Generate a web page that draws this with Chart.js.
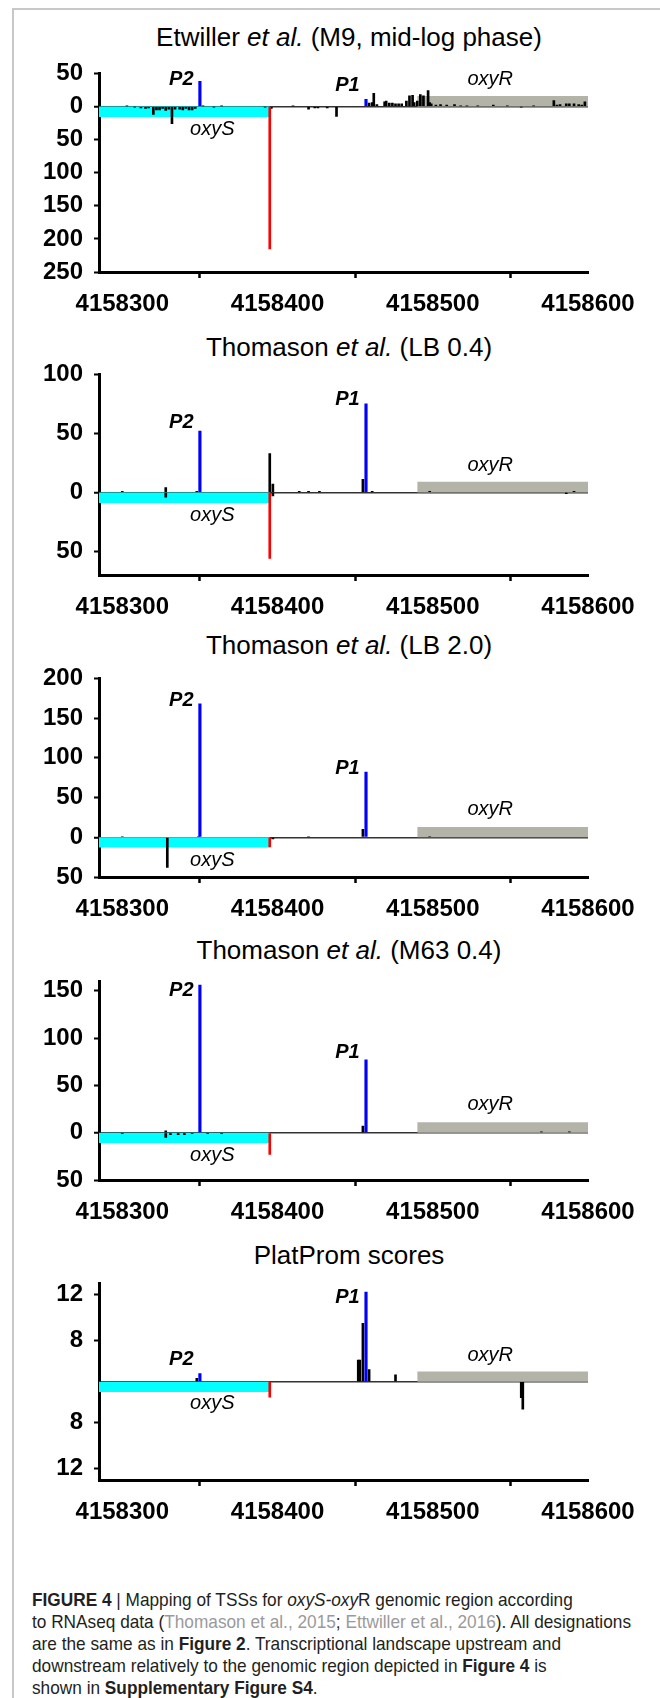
<!DOCTYPE html>
<html>
<head>
<meta charset="utf-8">
<script src="https://cdn.jsdelivr.net/npm/chart.js@4.4.1/dist/chart.umd.min.js"></script>
<style>
  html, body { margin: 0; padding: 0; background: #fff; }
  #page { position: relative; width: 660px; height: 1698px; overflow: hidden; background: #fff;
          font-family: "Liberation Sans", Arial, Helvetica, sans-serif; }
  #frame { position: absolute; left: 12px; top: 8px; width: 700px; height: 1750px;
           border-top: 2px solid #c8c8c8; border-left: 2px solid #c8c8c8; }
  .ptitle { position: absolute; left: 49px; width: 600px; height: 30px; line-height: 30px;
            text-align: center; font-size: 26px; color: #000; white-space: nowrap; }
  canvas { position: absolute; left: 0; }
  #caption { position: absolute; left: 32px; top: 1589px; font-family: "Liberation Sans", Arial, sans-serif;
             font-size: 19px; line-height: 22px; color: #231f20; white-space: nowrap;
             transform-origin: 0 0; }
  #caption .cl span { display: inline-block; }
  #caption .ref { color: #9a9a9a; }
</style>
</head>
<body>
<div id="page">
  <div id="frame"></div>
  <div class="ptitle" style="top:22px">Etwiller <i>et al.</i> (M9, mid-log phase)</div>
  <div class="ptitle" style="top:332px">Thomason <i>et al.</i> (LB 0.4)</div>
  <div class="ptitle" style="top:630px">Thomason <i>et al.</i> (LB 2.0)</div>
  <div class="ptitle" style="top:935px">Thomason <i>et al.</i> (M63 0.4)</div>
  <div class="ptitle" style="top:1240px">PlatProm scores</div>
  <div id="caption">
    <div class="cl"><span><b>FIGURE 4</b> | Mapping of TSSs for <i>oxyS-oxy</i>R genomic region according</span></div>
    <div class="cl"><span id="widest">to RNAseq data (<span class="ref">Thomason et al., 2015</span>; <span class="ref">Ettwiller et al., 2016</span>). All designations</span></div>
    <div class="cl"><span>are the same as in <b>Figure 2</b>. Transcriptional landscape upstream and</span></div>
    <div class="cl"><span>downstream relatively to the genomic region depicted in <b>Figure 4</b> is</span></div>
    <div class="cl"><span>shown in <b>Supplementary Figure S4</b>.</span></div>
  </div>
</div>
<script>
// ---------------- DATA ----------------
const xTicks = [4158300, 4158400, 4158500, 4158600];
const X_MIN = 4158285, X_MAX = 4158600;

// gene extents
const oxyS = [4158285, 4158395];
const oxyR = [4158490, 4158600];

// Etwiller et al. (M9, mid-log phase)
const etwBlackX = [4158303,4158308,4158312,4158315,4158317,4158320,4158322,4158324,4158326,4158328,4158330,4158332,4158334,4158337,4158339,4158341,4158343,4158345,4158347,4158352,4158359,4158364,4158392,4158396,4158410,4158420,4158424,4158426,4158432,4158438,4158459,4158461,4158462,4158464,4158469,4158470,4158472,4158474,4158476,4158478,4158480,4158483,4158485,4158487,4158488,4158490,4158492,4158494,4158497,4158498,4158499,4158502,4158505,4158509,4158514,4158518,4158522,4158529,4158539,4158548,4158557,4158565,4158578,4158580,4158582,4158586,4158588,4158591,4158594,4158596,4158598];
const etwBlackY = [1,-1,-2,-3,-2,-12,-5,-5,-3,-6,-4,-26,-4,-4,-5,-3,-5,-5,-3,1,-1,1,-1,-3,1,-4,-2,-2,-2,-15,5,6,20,3,7,8,5,5,4,4,4,8,16,17,6,8,18,16,24,6,4,2,3,2,3,1,1,1,2,1,-1,1,9,2,3,4,4,4,3,2,7];
const etwBlueX = [4158350, 4158457];
const etwBlueY = [38, 11];
const etwRedX = [4158395];
const etwRedY = [-215];
const etwYTicks = [-250, -200, -150, -100, -50, 0, 50];

// Thomason et al. (LB 0.4)
const lb04BlackX = [4158300,4158328,4158328,4158348,4158395,4158397,4158397,4158414,4158420,4158427,4158455,4158461,4158498,4158586,4158591];
const lb04BlackY = [1,4,-4,1,33,7,-3,1,1,1,11,1,1,-1,1];
const lb04BlueX = [4158350, 4158457];
const lb04BlueY = [52, 75];
const lb04RedX = [4158395];
const lb04RedY = [-56];
const lb04YTicks = [-50, 0, 50, 100];

// Thomason et al. (LB 2.0)
const lb20BlackX = [4158300,4158329,4158349,4158397,4158420,4158455,4158498];
const lb20BlackY = [1,-38,1,-2,1,10,1];
const lb20BlueX = [4158350, 4158457];
const lb20BlueY = [168, 82];
const lb20RedX = [4158395];
const lb20RedY = [-12];
const lb20YTicks = [-50, 0, 50, 100, 150, 200];

// Thomason et al. (M63 0.4)
const m63BlackX = [4158300,4158328,4158328,4158331,4158336,4158340,4158345,4158355,4158364,4158455,4158570,4158588];
const m63BlackY = [-1,-5,2,-2,-2,-2,-1,-1,-1,7,1,1];
const m63BlueX = [4158350, 4158457];
const m63BlueY = [156, 77];
const m63RedX = [4158395];
const m63RedY = [-23];
const m63YTicks = [-50, 0, 50, 100, 150];

// PlatProm scores (plotted above / below a baseline score)
const PLAT_BASE = 4.4;
const platPosX = [4158348, 4158452, 4158453, 4158455, 4158459, 4158476];
const platPosScore = [4.7, 6.3, 6.3, 9.5, 5.45, 5.0];
const platNegX = [4158557, 4158558];
const platNegScore = [5.8, 6.8];
const platBlueX = [4158350, 4158457];
const platBlueScore = [5.1, 12.25];
const platRedX = [4158395];
const platRedScore = [5.75];
const platTickScores = [12, 8, 8, 12];
const platTickStrand = [-1, -1, 1, 1];
const PLAT_LIMIT = 13;

// ---------------- BUILD ----------------
const FONT = '"Liberation Sans", Arial, Helvetica, sans-serif';
const CYAN = '#00ffff', GRAY = '#b3b3a8', BLUE = '#0000ff', RED = '#ff0000';
const pts = (xs, ys) => xs.map((x, i) => ({ x: x, y: ys[i] }));
const platT = (score, strand) => strand * (score - PLAT_BASE);

const panels = [
  { plotTop: 62, plotBottom: 272, yMin: -250, yMax: 50, yTicks: etwYTicks,
    black: pts(etwBlackX, etwBlackY), blue: pts(etwBlueX, etwBlueY), red: pts(etwRedX, etwRedY),
    boxH: 16, p2: 41, p1: 31, geneDy: [23, -27] },
  { plotTop: 363, plotBottom: 575, yMin: -70, yMax: 100, yTicks: lb04YTicks,
    black: pts(lb04BlackX, lb04BlackY), blue: pts(lb04BlueX, lb04BlueY), red: pts(lb04RedX, lb04RedY),
    boxH: 9, p2: 59, p1: 79, geneDy: [23, -27] },
  { plotTop: 667, plotBottom: 877, yMin: -50, yMax: 200, yTicks: lb20YTicks,
    black: pts(lb20BlackX, lb20BlackY), blue: pts(lb20BlueX, lb20BlueY), red: pts(lb20RedX, lb20RedY),
    boxH: 13, p2: 172, p1: 86, geneDy: [23, -28] },
  { plotTop: 970, plotBottom: 1180, yMin: -50, yMax: 160, yTicks: m63YTicks,
    black: pts(m63BlackX, m63BlackY), blue: pts(m63BlueX, m63BlueY), red: pts(m63RedX, m63RedY),
    boxH: 11, p2: 150, p1: 85, geneDy: [23, -28] },
  { plotTop: 1272, plotBottom: 1480, yMin: -(PLAT_LIMIT - PLAT_BASE), yMax: PLAT_LIMIT - PLAT_BASE,
    yTicks: [0].concat(platTickScores.map((s, i) => platT(s, platTickStrand[i]))),
    yLabel: v => (Math.abs(v) < 1e-9 ? '' : String(Math.round(Math.abs(v) + PLAT_BASE))),
    hideZeroTick: true,
    black: pts(platPosX, platPosScore.map(s => platT(s, 1))).concat(pts(platNegX, platNegScore.map(s => platT(s, -1)))),
    blue: pts(platBlueX, platBlueScore.map(s => platT(s, 1))),
    red: pts(platRedX, platRedScore.map(s => platT(s, -1))),
    boxH: 0.9, p2: 1.9, p1: 7.4, geneDy: [22, -26] }
];

const TOP_PAD = 14, XAXIS_H = 56;
const page = document.getElementById('page');

panels.forEach(function (p) {
  const plotH = p.plotBottom - p.plotTop;
  const canvas = document.createElement('canvas');
  canvas.width = 660;
  canvas.height = TOP_PAD + plotH + XAXIS_H;
  canvas.style.top = (p.plotTop - TOP_PAD) + 'px';
  canvas.style.width = '660px';
  canvas.style.height = canvas.height + 'px';
  page.appendChild(canvas);

  const annotations = [
    { text: 'P2', x: 4158338, y: p.p2, font: 'italic bold 20px ' + FONT },
    { text: 'P1', x: 4158445, y: p.p1, font: 'italic bold 20px ' + FONT },
    { text: 'oxyS', x: 4158358, dy: p.geneDy[0], font: 'italic 20px ' + FONT },
    { text: 'oxyR', x: 4158537, dy: p.geneDy[1], font: 'italic 20px ' + FONT }
  ];
  const annotPlugin = {
    id: 'annot',
    afterDatasetsDraw(chart) {
      const ctx = chart.ctx, xs = chart.scales.x, ys = chart.scales.y;
      ctx.save();
      ctx.fillStyle = '#000';
      ctx.textAlign = 'center';
      ctx.textBaseline = 'middle';
      annotations.forEach(function (a) {
        ctx.font = a.font;
        const px = xs.getPixelForValue(a.x);
        const py = (a.y !== undefined) ? ys.getPixelForValue(a.y) : ys.getPixelForValue(0) + a.dy;
        ctx.fillText(a.text, px, py);
      });
      ctx.restore();
    }
  };

  const barCommon = { type: 'bar', grouped: false, borderWidth: 0, borderSkipped: false };
  new Chart(canvas, {
    type: 'bar',
    data: {
      datasets: [
        { type: 'line', data: [{ x: oxyS[0], y: -p.boxH }, { x: oxyS[1], y: -p.boxH }], fill: 'origin',
          backgroundColor: CYAN, borderWidth: 0, pointRadius: 0, order: 10 },
        { type: 'line', data: [{ x: oxyR[0], y: p.boxH }, { x: oxyR[1], y: p.boxH }], fill: 'origin',
          backgroundColor: GRAY, borderWidth: 0, pointRadius: 0, order: 10 },
        Object.assign({}, barCommon, { data: p.black, backgroundColor: '#000', barThickness: 2, order: 3 }),
        Object.assign({}, barCommon, { data: p.red, backgroundColor: RED, barThickness: 2, order: 2 }),
        Object.assign({}, barCommon, { data: p.blue, backgroundColor: BLUE, barThickness: 2.5, order: 1 })
      ]
    },
    options: {
      responsive: false,
      animation: false,
      devicePixelRatio: 1,
      layout: { padding: { top: TOP_PAD, left: 0, right: 72, bottom: 0 } },
      plugins: { legend: { display: false }, tooltip: { enabled: false }, title: { display: false } },
      scales: {
        x: {
          type: 'linear', min: X_MIN, max: X_MAX, offset: false, z: 1,
          afterBuildTicks: ax => { ax.ticks = xTicks.map(v => ({ value: v })); },
          afterFit: ax => { ax.height = XAXIS_H; },
          grid: { drawOnChartArea: false, drawTicks: true, tickLength: 6, tickColor: '#000', tickWidth: 2.5, color: 'rgba(0,0,0,0)' },
          border: { display: true, color: '#000', width: 3 },
          ticks: { font: { family: FONT, size: 24, weight: 'bold' }, color: '#000', padding: 12,
                   maxRotation: 0, autoSkip: false, callback: v => String(v) }
        },
        y: {
          type: 'linear', min: p.yMin, max: p.yMax, z: 1,
          afterBuildTicks: ax => { ax.ticks = p.yTicks.map(v => ({ value: v })); },
          afterFit: ax => { ax.width = 99; },
          grid: {
            drawOnChartArea: true, drawTicks: true, tickLength: 5, tickWidth: 2,
            color: c => (c.tick && Math.abs(c.tick.value) < 1e-9 ? '#333' : 'rgba(0,0,0,0)'),
            lineWidth: c => (c.tick && Math.abs(c.tick.value) < 1e-9 ? 1.5 : 1),
            tickColor: c => (p.hideZeroTick && c.tick && Math.abs(c.tick.value) < 1e-9 ? 'rgba(0,0,0,0)' : '#000')
          },
          border: { display: true, color: '#000', width: 3 },
          ticks: { font: { family: FONT, size: 24, weight: 'bold' }, color: '#000', padding: 11,
                   autoSkip: false, callback: v => (p.yLabel ? p.yLabel(v) : String(Math.abs(v))) }
        }
      }
    },
    plugins: [annotPlugin]
  });
});

// condense the caption so that its widest line spans the caption width
(function () {
  const cap = document.getElementById('caption');
  const w = document.getElementById('widest').getBoundingClientRect().width;
  if (w > 0) cap.style.transform = 'scaleX(' + (599 / w).toFixed(4) + ')';
})();
</script>
</body>
</html>
